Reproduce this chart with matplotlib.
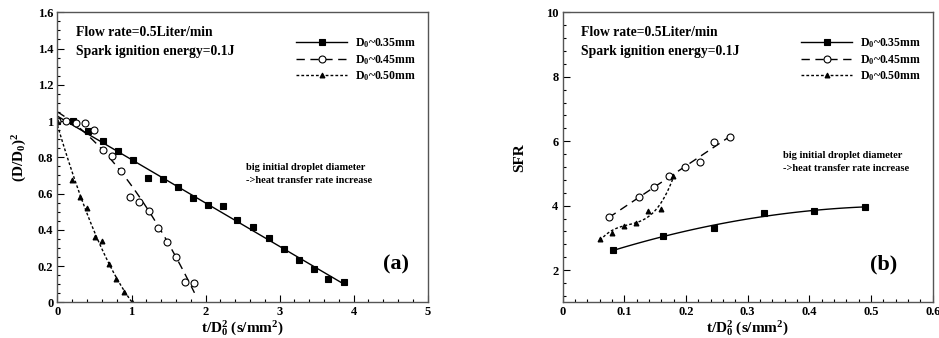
import numpy as np
import matplotlib
matplotlib.use("Agg")
from matplotlib import pyplot as plt
from matplotlib.ticker import MultipleLocator, FuncFormatter

plt.rcParams['font.family'] = 'Liberation Serif'
plt.rcParams['font.weight'] = 'bold'
plt.rcParams['axes.labelweight'] = 'bold'
plt.rcParams['mathtext.fontset'] = 'custom'
plt.rcParams['mathtext.rm'] = 'Liberation Serif:bold'
plt.rcParams['mathtext.it'] = 'Liberation Serif:bold'
plt.rcParams['mathtext.bf'] = 'Liberation Serif:bold'
plt.rcParams['mathtext.default'] = 'rm'

# (a) normalized squared diameter vs t/D0^2
a_x_035 = [0.0, 0.21, 0.41, 0.61, 0.815, 1.02, 1.22, 1.42, 1.625, 1.83, 2.03, 2.23,
           2.43, 2.64, 2.85, 3.06, 3.26, 3.46, 3.66, 3.87]
a_y_035 = [1.0, 1.0, 0.945, 0.89, 0.835, 0.785, 0.685, 0.68, 0.636, 0.577, 0.539, 0.531,
           0.454, 0.416, 0.355, 0.294, 0.235, 0.182, 0.131, 0.112]
a_x_045 = [0.0, 0.12, 0.257, 0.374, 0.5, 0.617, 0.738, 0.864, 0.986, 1.107, 1.238,
           1.355, 1.48, 1.607, 1.728, 1.85]
a_y_045 = [1.0, 1.0, 0.987, 0.987, 0.95, 0.839, 0.805, 0.723, 0.581, 0.555, 0.502,
           0.41, 0.331, 0.252, 0.114, 0.108]
a_x_050 = [0.0, 0.203, 0.3, 0.4, 0.504, 0.6, 0.698, 0.797, 0.9, 1.0]
a_y_050 = [1.0, 0.673, 0.579, 0.52, 0.362, 0.338, 0.211, 0.131, 0.057, 0.002]

# (b) SFR vs t/D0^2
b_x_035 = [0.0816, 0.162, 0.245, 0.326, 0.408, 0.49]
b_y_035 = [2.62, 3.05, 3.30, 3.76, 3.84, 3.95]
b_x_045 = [0.0746, 0.124, 0.148, 0.173, 0.198, 0.222, 0.246, 0.271]
b_y_045 = [3.64, 4.26, 4.57, 4.93, 5.19, 5.36, 5.96, 6.14]
b_x_050 = [0.0605, 0.0795, 0.0999, 0.119, 0.139, 0.160, 0.179]
b_y_050 = [2.95, 3.16, 3.37, 3.47, 3.83, 3.90, 4.93]

labels = [r"D$\mathrm{_0}$~0.35mm", r"D$\mathrm{_0}$~0.45mm", r"D$\mathrm{_0}$~0.50mm"]


def fit_curve(x, y, deg, x0, x1):
    c = np.polyfit(x, y, deg)
    xs = np.linspace(x0, x1, 100)
    return xs, np.polyval(c, xs)


def series(ax, x, y, deg, x0, x1, ls, marker, mfc, ms, label):
    xs, ys = fit_curve(x, y, deg, x0, x1)
    ax.plot(xs, ys, color='k', lw=1.0, linestyle=ls)
    ax.plot(x, y, linestyle='none', marker=marker, mfc=mfc, mec='k', ms=ms, mew=0.8)
    # legend proxy
    ax.plot([], [], color='k', lw=1.0, linestyle=ls, marker=marker, mfc=mfc,
            mec='k', ms=ms, mew=0.8, label=label)


def style(ax):
    ax.tick_params(which='both', direction='in', top=False, right=False,
                   labelsize=9, pad=3)
    ax.tick_params(which='major', length=5, width=0.8)
    ax.tick_params(which='minor', length=2.5, width=0.8)
    for s in ax.spines.values():
        s.set_color('#555555')
        s.set_linewidth(1.0)
    ax.text(0.05, 0.93, "Flow rate=0.5Liter/min", transform=ax.transAxes, fontsize=9.8,
            fontweight='bold', va='center')
    ax.text(0.05, 0.865, "Spark ignition energy=0.1J", transform=ax.transAxes, fontsize=9.8,
            fontweight='bold', va='center')
    ax.legend(loc='upper left', bbox_to_anchor=(0.645, 0.918), frameon=False,
              prop={'family': 'Liberation Serif', 'weight': 'bold', 'size': 8.5},
              handlelength=4.3, handletextpad=0.7, labelspacing=0.25, borderpad=0,
              borderaxespad=0, numpoints=1)
    ax.set_xlabel(r"t/D$\mathrm{_0^2}$ (s/mm$^2$)", fontsize=11, fontweight='bold', labelpad=0)


fig = plt.figure(figsize=(9.39, 3.38), dpi=100)
ax1 = fig.add_axes([0.0612, 0.1056, 0.3943, 0.858])
ax2 = fig.add_axes([0.5993, 0.1056, 0.394, 0.858])

dash = (0, (6, 4))
dot = (0, (2, 1.5))

series(ax1, a_x_035, a_y_035, 1, 0.0, 3.87, '-', 's', 'k', 4.5, labels[0])
series(ax1, a_x_045, a_y_045, 2, 0.0, 1.85, dash, 'o', 'white', 5, labels[1])
series(ax1, a_x_050, a_y_050, 2, 0.0, 1.0, dot, '^', 'k', 3.5, labels[2])
ax1.set_xlim(0, 5)
ax1.set_ylim(0, 1.6)
ax1.xaxis.set_major_locator(MultipleLocator(1))
ax1.xaxis.set_minor_locator(MultipleLocator(0.2))
ax1.yaxis.set_major_locator(MultipleLocator(0.2))
ax1.yaxis.set_minor_locator(MultipleLocator(0.05))
ax1.yaxis.set_major_formatter(FuncFormatter(lambda v, p: "%g" % v))
ax1.xaxis.set_major_formatter(FuncFormatter(lambda v, p: "%g" % v))
style(ax1)
ax1.set_ylabel(r"(D/D$\mathrm{_0}$)$^2$", fontsize=11, fontweight='bold', labelpad=6)
ax1.text(0.51, 0.465, "big initial droplet diameter", transform=ax1.transAxes, fontsize=7.5,
         fontweight='bold', va='center')
ax1.text(0.51, 0.42, "->heat transfer rate increase", transform=ax1.transAxes, fontsize=7.5,
         fontweight='bold', va='center')
ax1.text(0.95, 0.13, "(a)", transform=ax1.transAxes, fontsize=16, fontweight='bold',
         ha='right', va='center')

series(ax2, b_x_035, b_y_035, 2, 0.0816, 0.49, '-', 's', 'k', 4.5, labels[0])
series(ax2, b_x_045, b_y_045, 1, 0.0746, 0.271, dash, 'o', 'white', 5, labels[1])
series(ax2, b_x_050, b_y_050, 3, 0.0605, 0.179, dot, '^', 'k', 3.5, labels[2])
ax2.set_xlim(0, 0.6)
ax2.set_ylim(1, 10)
ax2.xaxis.set_major_locator(MultipleLocator(0.1))
ax2.xaxis.set_minor_locator(MultipleLocator(0.02))
ax2.yaxis.set_major_locator(MultipleLocator(2))
ax2.yaxis.set_minor_locator(MultipleLocator(0.4))
ax2.xaxis.set_major_formatter(FuncFormatter(lambda v, p: "%g" % v))
style(ax2)
ax2.set_ylabel("SFR", fontsize=11, fontweight='bold', labelpad=14)
ax2.text(0.595, 0.505, "big initial droplet diameter", transform=ax2.transAxes, fontsize=7.5,
         fontweight='bold', va='center')
ax2.text(0.595, 0.46, "->heat transfer rate increase", transform=ax2.transAxes, fontsize=7.5,
         fontweight='bold', va='center')
ax2.text(0.905, 0.13, "(b)", transform=ax2.transAxes, fontsize=16, fontweight='bold',
         ha='right', va='center')

for ax in (ax1, ax2):
    plt.setp(ax.get_xticklabels() + ax.get_yticklabels(), fontweight='bold',
             family='Liberation Serif')

fig.savefig("out.png", dpi=100)
